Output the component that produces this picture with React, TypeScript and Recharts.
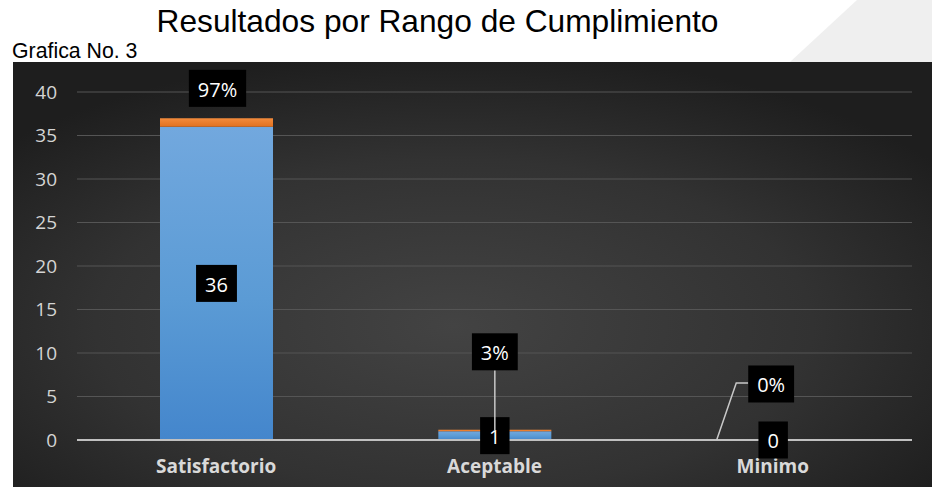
import React from "react";
import { BarChart, Bar, XAxis, YAxis, CartesianGrid, LabelList } from "recharts";

const categories = ["Satisfactorio", "Aceptable", "Minimo"];
const counts = [36, 1, 0];
const percents = [0.97, 0.03, 0];
const yTicks = [0, 5, 10, 15, 20, 25, 30, 35, 40];

const data = categories.map((cat, i) => ({ cat, count: counts[i], pct: percents[i] }));

// label placement for percentage callouts (relative to top-centre of the stacked segment)
const pctPlacement = [
  { dx: 1, dy: -30, leader: "none" },
  { dx: 0, dy: -78, leader: "vertical" },
  { dx: -2, dy: -56, leader: "elbow" },
];

const LABEL_FONT = "'Open Sans', 'Noto Sans', sans-serif";
const LABEL_SIZE = 20;
const BOX_H = 37;

function textWidth(s: string) {
  let w = 0;
  for (const ch of s) w += ch === "%" ? 0.82 * LABEL_SIZE : 0.572 * LABEL_SIZE;
  return w;
}

function getBox(props: any) {
  const vb = props.viewBox || {};
  const x = props.x ?? vb.x ?? 0;
  const y = props.y ?? vb.y ?? 0;
  const width = props.width ?? vb.width ?? 0;
  const height = props.height ?? vb.height ?? 0;
  return { x: Number(x), y: Number(y), width: Number(width), height: Number(height) };
}

function Tag({ cx, cy, text }: { cx: number; cy: number; text: string }) {
  const w = textWidth(text) + 18;
  return (
    <g>
      <rect x={cx - w / 2} y={cy - BOX_H / 2} width={w} height={BOX_H} fill="#000" />
      <text
        x={cx}
        y={cy + 1}
        textAnchor="middle"
        dominantBaseline="central"
        fill="#ffffff"
        fontFamily={LABEL_FONT}
        fontSize={LABEL_SIZE}
      >
        {text}
      </text>
    </g>
  );
}

function CountLabel(props: any) {
  const { x, y, width, height } = getBox(props);
  const cx = x + width / 2;
  const cy = y + height / 2;
  return <Tag cx={cx} cy={cy} text={String(props.value)} />;
}

function PctLabel(props: any) {
  const { x, y, width, height } = getBox(props);
  const idx = props.index ?? 0;
  const p = pctPlacement[idx] || pctPlacement[0];
  const top = Math.min(y, y + height);
  const bottom = Math.max(y, y + height);
  const cx = x + width / 2 + p.dx;
  const cy = top + p.dy;
  const text = `${Math.round(Number(props.value) * 100)}%`;
  const w = textWidth(text) + 18;
  let leader = null;
  if (p.leader === "vertical") {
    leader = <line x1={cx} y1={cy + BOX_H / 2} x2={cx} y2={top + 1} stroke="#c8c8c8" strokeWidth={1.5} />;
  } else if (p.leader === "elbow") {
    const bx = cx - w / 2;
    leader = (
      <polyline
        points={`${x},${bottom} ${bx - 12},${cy - 1} ${bx},${cy - 1}`}
        fill="none"
        stroke="#c8c8c8"
        strokeWidth={1.5}
      />
    );
  }
  return (
    <g>
      {leader}
      <Tag cx={cx} cy={cy} text={text} />
    </g>
  );
}

function XTick(props: any) {
  const { x, y, payload } = props;
  return (
    <text
      x={x}
      y={y}
      textAnchor="middle"
      dominantBaseline="central"
      fill="#d9d9d9"
      fontFamily={LABEL_FONT}
      fontWeight={700}
      fontSize={19}
    >
      {payload.value}
    </text>
  );
}

const tinyMin = (v: any) => (Number(Array.isArray(v) ? v[1] - v[0] : v) > 0 ? 1.5 : 0.01);

export default function App() {
  return (
    <div style={{ position: "absolute", left: 0, top: 0, width: 932, height: 497, background: "#fff", overflow: "hidden" }}>
      <svg width={932} height={497} style={{ position: "absolute", left: 0, top: 0 }}>
        <defs>
          <radialGradient id="bgGrad" cx="48%" cy="62%" r="65%">
            <stop offset="0%" stopColor="#434343" />
            <stop offset="60%" stopColor="#323232" />
            <stop offset="100%" stopColor="#1e1e1e" />
          </radialGradient>
        </defs>
        <polygon points="790,62 857,0 932,0 932,62" fill="#efefef" />
        <rect x={13} y={62} width={919} height={425} fill="url(#bgGrad)" />
        <text
          x={437.5}
          y={32}
          textAnchor="middle"
          fontFamily="'Liberation Sans', Arial, sans-serif"
          fontSize={31.7}
          fill="#000"
        >
          Resultados por Rango de Cumplimiento
        </text>
        <text x={12} y={58} fontFamily="'Liberation Sans', Arial, sans-serif" fontSize={21.3} fill="#000">
          Grafica No. 3
        </text>
      </svg>
      <div style={{ position: "absolute", left: 0, top: 0 }}>
        <BarChart
          width={932}
          height={497}
          data={data}
          margin={{ top: 92, right: 20, bottom: 27, left: 17 }}
        >
          <defs>
            <linearGradient id="blueGrad" x1="0" y1="0" x2="0" y2="1">
              <stop offset="0%" stopColor="#72a8de" />
              <stop offset="55%" stopColor="#5b9bd5" />
              <stop offset="100%" stopColor="#4486cc" />
            </linearGradient>
            <linearGradient id="orangeGrad" x1="0" y1="0" x2="0" y2="1">
              <stop offset="0%" stopColor="#f38b3c" />
              <stop offset="100%" stopColor="#e2711f" />
            </linearGradient>
          </defs>
          <CartesianGrid vertical={false} stroke="#555555" strokeWidth={1.2} />
          <XAxis
            dataKey="cat"
            height={30}
            axisLine={{ stroke: "#c0c0c0", strokeWidth: 2 }}
            tickLine={false}
            tickSize={0}
            tickMargin={26}
            tick={<XTick />}
          />
          <YAxis
            width={60}
            domain={[0, 40]}
            ticks={yTicks}
            axisLine={false}
            tickLine={false}
            tickSize={0}
            tickMargin={20}
            tick={{ fill: "#d4d4d4", fontSize: 19, fontFamily: LABEL_FONT }}
          />
          <Bar dataKey="count" stackId="s" fill="url(#blueGrad)" barSize={113} minPointSize={0.01} isAnimationActive={false}>
            <LabelList dataKey="count" content={CountLabel} />
          </Bar>
          <Bar dataKey="pct" stackId="s" fill="url(#orangeGrad)" barSize={113} minPointSize={tinyMin} isAnimationActive={false}>
            <LabelList dataKey="pct" content={PctLabel} />
          </Bar>
        </BarChart>
      </div>
    </div>
  );
}
